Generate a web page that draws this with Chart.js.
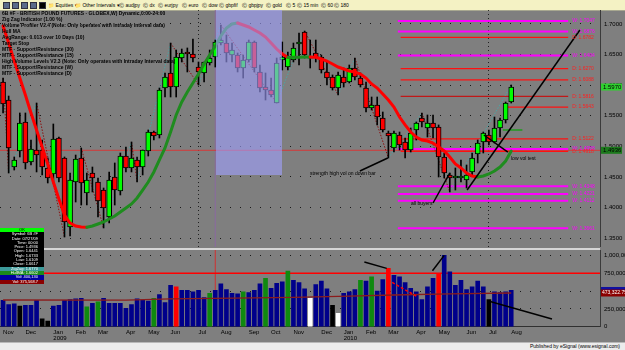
<!DOCTYPE html>
<html>
<head>
<meta charset="utf-8">
<script src="https://cdn.jsdelivr.net/npm/chart.js@4.4.1/dist/chart.umd.min.js"></script>
<style>
html, body { margin:0; padding:0; }
body { width:625px; height:350px; overflow:hidden; position:relative; background:#7f7f7f;
       font-family:"Liberation Sans Narrow","Liberation Sans",Arial,sans-serif; }
.abs { position:absolute; }
#toolbar { left:0; top:0; width:625px; height:10px; background:#f4f2c4; border-bottom:1px solid #a8a890; }
#toolbar span { position:absolute; top:1px; font-size:5px; line-height:8px; color:#000; white-space:nowrap; }
#toolbar i { position:absolute; top:2px; width:5px; height:5px; background:#5a6a8a; border:1px solid #303040; }
#titles { left:2px; top:10px; font-size:6px; line-height:6px; font-weight:bold; color:#000; white-space:nowrap;
          transform:scaleX(0.83); transform-origin:0 0; }
#main { left:0; top:10px; }
#vol { left:0; top:247px; }
#shade { left:216px; top:10px; width:66px; height:165px; background:rgba(160,160,255,0.6); }
.note { font-size:5px; color:#000; white-space:nowrap; }
#dw { left:0; top:228px; width:44px; font-size:4px; line-height:4.3px; color:#fff; text-align:right; }
#dw div { padding-right:6px; height:4.3px; white-space:nowrap; }
#sep { left:0; top:248px; width:600px; height:2px; background:#d6d6d6; }
#foot { left:0; top:342px; width:625px; height:8px; background:#ececec; border-top:1px solid #b8b8b8; }
#foot span { position:absolute; right:5px; top:0; font-size:5px; line-height:7px; color:#000; }
</style>
</head>
<body>
<div id="toolbar" class="abs">
  <i style="left:3px"></i><i style="left:12px"></i><i style="left:21px"></i><i style="left:30px"></i><i style="left:39px;background:#000"></i>
  <span style="left:48px">&#128193; Equities &#9662;</span>
  <span style="left:75px">&#128193; Other Intervals &#9662;</span>
  <span style="left:119px">&#9400; audjpy</span>
  <span style="left:143px">&#9400; dx</span>
  <span style="left:158px">&#9400; eurjpy</span>
  <span style="left:182px">&#9400; euro</span>
  <span style="left:202px">&#9400; dow</span>
  <span style="left:219px">&#9400; gbpfif</span>
  <span style="left:242px">&#9400; gbpjpy</span>
  <span style="left:266px">&#9400; gold</span>
  <span style="left:286px">&#9400; 5</span>
  <span style="left:297px">&#9400; 15 min</span>
  <span style="left:321px">&#9400; 60</span>
  <span style="left:334px">&#9400; 180</span>
</div>

<canvas id="main" class="abs" width="625" height="237"></canvas>
<div id="sep" class="abs"></div>
<canvas id="vol" class="abs" width="625" height="97"></canvas>

<div id="titles" class="abs">
6B #F - BRITISH POUND FUTURES - GLOBEX,W) Dynamic,0:00-24:00<br>
Zig Zag Indicator (1.00 %)<br>
Volume Profiler V2.4 (Note: Only operates with Intraday Interval data)<br>
Hull MA<br>
AvgRange: 0.013 over 10 Days (10)<br>
Target Stop<br>
MTF - Support/Resistance (30)<br>
MTF - Support/Resistance (15)<br>
High Volume Levels V2.3 (Note: Only operates with Intraday Interval data)<br>
MTF - Support/Resistance (W)<br>
MTF - Support/Resistance (D)
</div>

<div id="shade" class="abs"></div>

<div class="abs note" style="left:310px;top:170px">strength high vol on down bar</div>
<div class="abs note" style="left:411px;top:200px">all buyers</div>
<div class="abs note" style="left:511px;top:155px">low vol test</div>

<div id="dw" class="abs">
  <div style="background:#00ff00;color:#000;text-align:center;padding:0">OK</div>
  <div style="background:#000">Symbol: 6B #F</div>
  <div style="background:#000">Date: 07/27/09</div>
  <div style="background:#000">Time: 00:00</div>
  <div style="background:#000">Price: 1.4936</div>
  <div style="background:#000">Open: 1.6441</div>
  <div style="background:#000">High: 1.6733</div>
  <div style="background:#000">Low: 1.6109</div>
  <div style="background:#000">Close: 1.6617</div>
  <div style="background:#3c9a9a">ZigZag: 1.6770</div>
  <div style="background:#1b8a1b">HullMA: 1.6602</div>
  <div style="background:#0000a0">Vol: 400,130</div>
  <div style="background:#8b0000">Vol: 375,568.7</div>
</div>

<div id="foot" class="abs"><span>Published by eSignal (www.esignal.com)</span></div>

<script>
// weekly bars, Nov 3 2008 .. Aug 2 2010 (index = week number)
var monthStarts = [0,4,9,13,17,22,26,30,35,39,44,48,52,57,61,65,69,74,78,83,87,91];
var monthNames = ["Nov","Dec","Jan","Feb","Mar","Apr","May","Jun","Jul","Aug","Sep","Oct",
                  "Nov","Dec","Jan","Feb","Mar","Apr","May","Jun","Jul","Aug"];
var yearStarts = [9, 61];
var yearNames = ["2009", "2010"];

var opens = [1.6052,1.5758,1.4663,1.4925,1.5399,1.4745,1.4941,1.4941,1.4647,1.4549,
  1.5137,1.4810,1.3683,1.4418,1.4810,1.4238,1.4565,1.4418,1.4287,1.3846,
  1.4500,1.4271,1.4843,1.4647,1.4778,1.4663,1.4925,1.5235,1.5186,1.5954,
  1.6199,1.5970,1.6444,1.6526,1.6510,1.6297,1.6199,1.6363,1.6461,1.6689,
  1.6689,1.6493,1.6493,1.6281,1.6412,1.6706,1.6216,1.5970,1.5921,1.5709,
  1.6412,1.6297,1.6412,1.6673,1.6869,1.6444,1.6526,1.6461,1.6216,1.6134,
  1.5954,1.6134,1.6052,1.6281,1.6117,1.5954,1.5627,1.5676,1.5464,1.5219,
  1.4974,1.5186,1.5072,1.4941,1.5268,1.5464,1.5300,1.5382,1.5317,1.4827,
  1.4533,1.4484,1.4484,1.4451,1.4582,1.4876,1.5072,1.5186,1.5072,1.5300,
  1.5431,1.5725];
var highs = [1.6117,1.5823,1.4827,1.5546,1.5546,1.5104,1.5709,1.5104,1.4810,1.5366,
  1.5153,1.4827,1.4565,1.4859,1.4974,1.4565,1.4663,1.4484,1.4320,1.4582,
  1.4729,1.4892,1.4990,1.5072,1.4827,1.4941,1.5268,1.5251,1.5954,1.6199,
  1.6689,1.6575,1.6591,1.6608,1.6755,1.6379,1.6379,1.6575,1.6738,1.6984,
  1.6820,1.6689,1.6526,1.6493,1.6738,1.6722,1.6330,1.6199,1.6117,1.6444,
  1.6706,1.6542,1.6689,1.6853,1.6885,1.6738,1.6738,1.6493,1.6379,1.6167,
  1.6216,1.6281,1.6330,1.6444,1.6199,1.6052,1.5807,1.5807,1.5562,1.5251,
  1.5251,1.5235,1.5137,1.5300,1.5399,1.5546,1.5513,1.5513,1.5350,1.4892,
  1.4565,1.4647,1.4778,1.4696,1.4892,1.5104,1.5235,1.5268,1.5480,1.5464,
  1.5725,1.6003];
var lows = [1.5546,1.4565,1.4614,1.4827,1.4631,1.4696,1.4582,1.4533,1.4402,1.4402,
  1.4418,1.3519,1.3536,1.4091,1.4042,1.4042,1.4255,1.3846,1.3667,1.3748,
  1.4042,1.4206,1.4582,1.4582,1.4418,1.4533,1.4843,1.5104,1.5137,1.5807,
  1.5807,1.5807,1.6379,1.6216,1.6379,1.6003,1.6052,1.6330,1.6297,1.6657,
  1.6379,1.6379,1.6216,1.6117,1.6379,1.6216,1.5889,1.5758,1.5807,1.5709,
  1.6248,1.6248,1.6379,1.6330,1.6444,1.6281,1.6379,1.6199,1.6003,1.5921,
  1.5840,1.5970,1.6036,1.6085,1.5970,1.5562,1.5595,1.5350,1.5235,1.4810,
  1.4908,1.4941,1.4810,1.4908,1.5104,1.5317,1.5153,1.5137,1.4500,1.4484,
  1.4255,1.4287,1.4418,1.4320,1.4533,1.4729,1.4892,1.5023,1.5055,1.5153,
  1.5382,1.5709];
var closes = [1.5693,1.4974,1.4778,1.5382,1.4729,1.4957,1.4859,1.4663,1.4484,1.5121,
  1.4484,1.3765,1.4451,1.4794,1.4402,1.4451,1.4484,1.4108,1.3993,1.4451,
  1.4287,1.4843,1.4647,1.4810,1.4663,1.4941,1.5235,1.5170,1.5921,1.6134,
  1.5970,1.6461,1.6526,1.6510,1.6444,1.6216,1.6379,1.6444,1.6706,1.6738,
  1.6526,1.6575,1.6281,1.6412,1.6706,1.6281,1.5954,1.5921,1.5840,1.6363,
  1.6461,1.6461,1.6608,1.6689,1.6493,1.6440,1.6444,1.6248,1.6117,1.5954,
  1.6167,1.6036,1.6281,1.6134,1.6003,1.5627,1.5676,1.5480,1.5268,1.5170,
  1.5219,1.5023,1.4941,1.5219,1.5382,1.5399,1.5382,1.5300,1.4827,1.4565,
  1.4484,1.4500,1.4500,1.4533,1.4810,1.5055,1.5219,1.5072,1.5300,1.5431,
  1.5709,1.5970];

// Hull MA
var hullMA = [1.6967,1.6689,1.6395,1.6117,1.5840,1.5546,1.5268,1.4990,1.4712,1.4418,
  1.4140,1.3879,1.3748,1.3699,1.3684,1.3680,1.3699,1.3732,1.3765,1.3814,
  1.3863,1.3928,1.3993,1.4059,1.4157,1.4287,1.4418,1.4582,1.4778,1.4974,
  1.5235,1.5513,1.5725,1.5889,1.6036,1.6183,1.6346,1.6493,1.6640,1.6804,
  1.6934,1.7000,1.7016,1.6984,1.6951,1.6902,1.6853,1.6787,1.6689,1.6591,
  1.6510,1.6452,1.6455,1.6458,1.6460,1.6462,1.6455,1.6428,1.6395,1.6346,
  1.6297,1.6265,1.6232,1.6216,1.6183,1.6117,1.6020,1.5954,1.5856,1.5758,
  1.5644,1.5480,1.5350,1.5235,1.5153,1.5104,1.5088,1.5055,1.4990,1.4925,
  1.4827,1.4712,1.4647,1.4565,1.4516,1.4500,1.4516,1.4549,1.4598,1.4663,
  1.4761,1.4925];

// zig zag swing points
var zigIdx = [0,1,6,11,14,18,23,24,30,35,39,49,54,60,63,69,75,80,91];
var zigVal = [1.6117,1.4565,1.5709,1.3519,1.4974,1.3667,1.5072,1.4418,1.6689,1.6003,
  1.6984,1.5709,1.6885,1.5840,1.6444,1.4810,1.5546,1.4255,1.6003];

// support / resistance levels (W = weekly, D = daily)
var srLevels = [1.7047,1.6876,1.6782,1.6484,1.6270,1.6088,1.5816,1.5643,1.5122,1.4958,
  1.4918,1.4348,1.4221,1.4112,1.3661];
var srKind = ["W","W","D","W","D","D","D","D","D","W","D","W","W","W","W"];
var srFrom = [70.7,70.7,71.2,70.7,71.2,71.2,71.2,90.4,71.2,70.7,71.2,70.7,70.7,70.7,70.7];
var srTo = 101.2;

// drawn trend lines: [x1, y1, x2, y2] in weeks / price
var trendLines = [[77.0,1.4075,80.0,1.4565],[83.1,1.4287,103.3,1.6902],
  [86.1,1.5186,90.4,1.4908],[68.9,1.4810,63.9,1.4598]];
var crossIdx = 38;
var crossPrice = 1.4936;
var priceTicks = [1.35,1.40,1.45,1.50,1.55,1.60,1.65,1.70];

var volumes = [370,310,320,290,300,300,370,110,80,290,
  300,370,380,390,400,280,330,350,400,330,
  330,330,260,310,390,370,360,400,450,340,
  580,560,510,510,490,510,410,470,510,600,
  520,470,460,490,480,510,600,680,540,610,
  630,780,650,620,530,400,590,640,530,300,
  190,470,490,520,650,640,700,500,660,820,
  720,700,620,540,490,380,560,680,750,1000,
  770,580,650,520,560,640,560,380,490,480,
  490,510].map(function (v) { return v * 1000; });
var volKind = {3:"k",7:"k",8:"k",59:"k",87:"k",55:"w",60:"w",15:"g",17:"g",27:"g",37:"g",
  43:"g",47:"g",51:"g",64:"g",66:"g",31:"r",69:"r",78:"r"};
var avgVolIdx = [0,22,30,45,52,62,70,80,91];
var avgVolVal = [375000,372000,390000,405000,412000,428000,445000,460000,473322.75];
var volLines = [[64.7,908000,68.7,818000],[76.9,785000,79.0,1000000],[86.9,360000,98.3,110000]];
var volDash = [68.9,657000,74.0,429000];
var volHigh = 750000;
var volTicks = [0,250000,500000,750000,1000000];

var xMin = -0.55, xMax = 106.9;

Chart.defaults.font.family = '"Liberation Sans Narrow","Liberation Sans",Arial,sans-serif';
Chart.defaults.font.size = 6;
Chart.defaults.color = '#000';
Chart.defaults.animation = false;
Chart.defaults.events = [];
Chart.defaults.plugins.legend.display = false;
Chart.defaults.plugins.tooltip.enabled = false;

function seg(pairs) {
  return [{ x: pairs[0], y: pairs[1] }, { x: pairs[2], y: pairs[3] }];
}
function lineSet(data, color, width, order, dash) {
  return { type: 'line', data: data, borderColor: color, borderWidth: width, pointRadius: 0,
           borderDash: dash || [], order: order, tension: 0 };
}
// fixed right axis width, no extra padding from tick labels
var fixY = function (s) { s.width = 25; s.paddingTop = 0; s.paddingBottom = 0; };
var fixX = function (s) { s.paddingLeft = 0; s.paddingRight = 0; };

// ---- price panel ----
var mainSets = [];
mainSets.push(lineSet([{ x: xMin, y: crossPrice }, { x: xMax, y: crossPrice }], '#d43a3a', 1, 20));
mainSets.push(lineSet([{ x: crossIdx, y: 1.3 }, { x: crossIdx, y: 1.8 }], '#8a6aa0', 1, 20));
srLevels.forEach(function (v, k) {
  var c = srKind[k] === 'W' ? '#ff00ff' : (v === 1.5816 ? '#c01818' : '#ff1010');
  mainSets.push(lineSet([{ x: srFrom[k], y: v }, { x: srTo, y: v }], c, srKind[k] === 'W' ? 2 : 1.3, 18));
});
mainSets.push(lineSet([{ x: 89.5, y: 1.5268 }, { x: 93, y: 1.5268 }], '#10a010', 1.3, 18));
var zz = lineSet(zigIdx.map(function (i, k) { return { x: i, y: zigVal[k] }; }), '#8b1010', 1, 15, [1.5, 1.5]);
zz.segment = { borderColor: function (c) { return c.p1.parsed.y > c.p0.parsed.y ? '#4aa6a6' : '#8b1010'; } };
mainSets.push(zz);
mainSets.push({
  type: 'bar', grouped: false, order: 12, barThickness: 1,
  data: highs.map(function (h, i) { return { x: i, y: [lows[i], h] }; }),
  backgroundColor: '#000'
});
mainSets.push({
  type: 'bar', grouped: false, order: 11, barThickness: 5, minBarLength: 2,
  data: opens.map(function (o, i) { return { x: i, y: [Math.min(o, closes[i]), Math.max(o, closes[i])] }; }),
  backgroundColor: opens.map(function (o, i) { return closes[i] >= o ? '#00ff00' : '#ff0000'; }),
  borderColor: '#000', borderWidth: 1, borderSkipped: false
});
var hm = lineSet(hullMA.map(function (v, i) { return { x: i, y: v }; }), '#ff0000', 3, 5);
hm.segment = { borderColor: function (c) { return c.p1.parsed.y > c.p0.parsed.y ? '#1f8c1f' : '#ff0000'; } };
hm.borderCapStyle = 'round';
mainSets.push(hm);
trendLines.forEach(function (t) { mainSets.push(lineSet(seg(t), '#000', 1.5, 2)); });

var mainPlugin = {
  id: 'mainExtras',
  afterDraw: function (chart) {
    var ctx = chart.ctx, xs = chart.scales.x, ys = chart.scales.y, ca = chart.chartArea;
    ctx.save();
    ctx.font = '5px "Liberation Sans Narrow","Liberation Sans",sans-serif';
    ctx.textBaseline = 'middle';
    srLevels.forEach(function (v, k) {
      ctx.fillStyle = srKind[k] === 'W' ? '#ff00ff' : '#ff2020';
      ctx.fillText(srKind[k] + ': ' + v.toFixed(4), xs.getPixelForValue(srTo) + 4, ys.getPixelForValue(v));
    });
    function box(v, bg, fg) {
      var y = ys.getPixelForValue(v);
      ctx.fillStyle = bg;
      ctx.fillRect(ca.right + 1, y - 3.5, 21, 7);
      ctx.fillStyle = fg;
      ctx.font = '6px "Liberation Sans Narrow","Liberation Sans",sans-serif';
      ctx.fillText(v.toFixed(4), ca.right + 3, y);
    }
    box(closes[closes.length - 1], '#2fd12f', '#000');
    box(crossPrice, '#1c7a1c', '#000');
    ctx.restore();
  }
};

new Chart(document.getElementById('main'), {
  type: 'bar',
  data: { datasets: mainSets },
  options: {
    responsive: false,
    layout: { padding: 0, autoPadding: false },
    scales: {
      x: {
        type: 'linear', min: xMin, max: xMax, offset: false,
        afterBuildTicks: function (s) { s.ticks = yearStarts.map(function (v) { return { value: v }; }); },
        afterFit: fixX,
        ticks: { display: false },
        grid: { color: 'rgba(0,0,0,0.75)', drawTicks: false },
        border: { display: false, dash: [1, 3] }
      },
      y: {
        position: 'right', min: 1.3356, max: 1.72286,
        afterBuildTicks: function (s) { s.ticks = priceTicks.map(function (v) { return { value: v }; }); },
        afterFit: fixY,
        ticks: { padding: 4, callback: function (v) { return v.toFixed(4); } },
        grid: { color: 'rgba(0,0,0,0.8)', drawTicks: false },
        border: { display: true, color: '#3a3a3a', width: 1, dash: [1, 9] }
      }
    }
  },
  plugins: [mainPlugin]
});

// ---- volume panel ----
var volColors = volumes.map(function (v, i) {
  var k = volKind[i];
  return k === 'k' ? '#000000' : k === 'w' ? '#ffffff' : k === 'g' ? '#0f8a0f' : k === 'r' ? '#ff0000' : '#00008b';
});
var volSets = [];
volSets.push(lineSet([{ x: crossIdx, y: 0 }, { x: crossIdx, y: 1200000 }], '#d03030', 1, 20));
volSets.push(lineSet([{ x: xMin, y: volHigh }, { x: xMax, y: volHigh }], '#ff0000', 1.5, 19));
volSets.push({ type: 'bar', grouped: false, order: 10, barThickness: 4,
  data: volumes.map(function (v, i) { return { x: i, y: v }; }), backgroundColor: volColors });
volSets.push(lineSet(avgVolIdx.map(function (i, k) { return { x: i, y: avgVolVal[k] }; }), '#8b1c1c', 1.3, 5));
volLines.forEach(function (t) { volSets.push(lineSet(seg(t), '#000', 1.5, 2)); });
volSets.push(lineSet(seg(volDash), '#ff0000', 1.5, 2, [3, 2]));

var volPlugin = {
  id: 'volExtras',
  afterDraw: function (chart) {
    var ctx = chart.ctx, ys = chart.scales.y, ca = chart.chartArea;
    var last = avgVolVal[avgVolVal.length - 1];
    var y = ys.getPixelForValue(last);
    ctx.save();
    ctx.fillStyle = '#1010a0';
    ctx.fillRect(ca.right + 1, y - 6, 24, 3);
    ctx.fillStyle = '#8b0000';
    ctx.fillRect(ca.right + 1, y - 3.5, 24, 7);
    ctx.fillStyle = '#fff';
    ctx.font = '5px "Liberation Sans Narrow","Liberation Sans",sans-serif';
    ctx.textBaseline = 'middle';
    ctx.fillText(last.toLocaleString('en-US', { minimumFractionDigits: 2 }), ca.right + 2, y);
    ctx.restore();
  }
};

new Chart(document.getElementById('vol'), {
  type: 'bar',
  data: { datasets: volSets },
  options: {
    responsive: false,
    layout: { padding: { top: 3 }, autoPadding: false },
    scales: {
      x: {
        type: 'linear', min: xMin, max: xMax, offset: false,
        afterBuildTicks: function (s) { s.ticks = monthStarts.map(function (v) { return { value: v }; }); },
        afterFit: fixX,
        ticks: {
          padding: 2, align: 'start', maxRotation: 0, autoSkip: false,
          font: { size: 6, lineHeight: 1.1 },
          callback: function (v, k) {
            var y = yearStarts.indexOf(monthStarts[k]);
            return y >= 0 ? [monthNames[k], yearNames[y]] : monthNames[k];
          }
        },
        grid: { display: false, drawTicks: false },
        border: { display: true, color: '#303030' }
      },
      y: {
        position: 'right', min: 0, max: 1075000,
        afterBuildTicks: function (s) { s.ticks = volTicks.map(function (v) { return { value: v }; }); },
        afterFit: fixY,
        ticks: { padding: 4, callback: function (v) { return v.toLocaleString('en-US'); } },
        grid: { color: 'rgba(0,0,0,0.8)', drawTicks: false },
        border: { display: true, color: '#3a3a3a', width: 1, dash: [1, 9] }
      }
    }
  },
  plugins: [volPlugin]
});
</script>
</body>
</html>
